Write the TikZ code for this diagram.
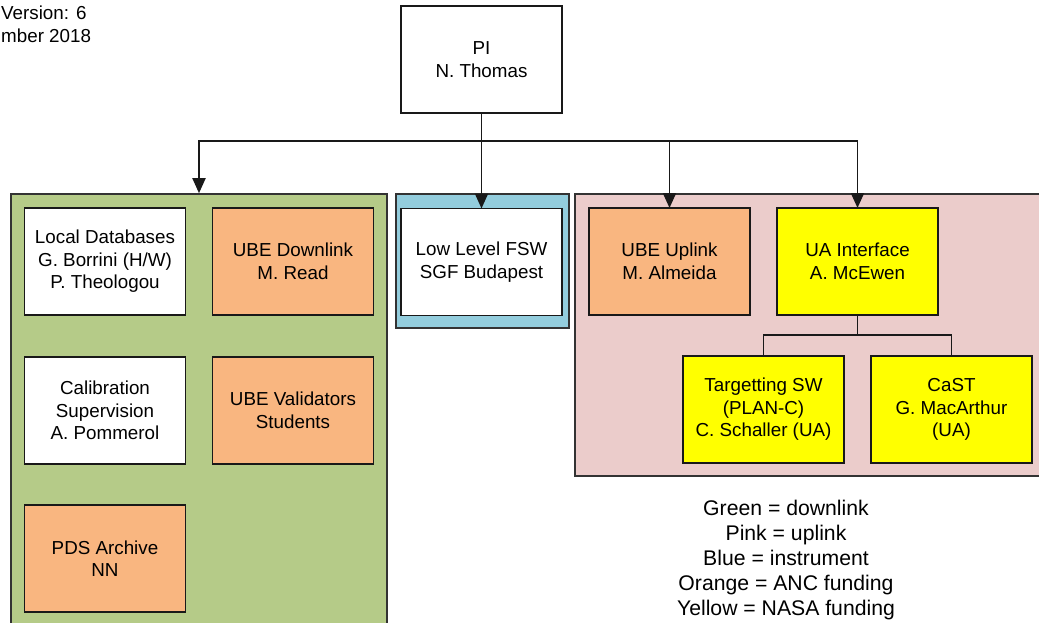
\documentclass[tikz,border=0pt]{standalone}
\usepackage{fontspec}
\setmainfont{Liberation Sans}
\usetikzlibrary{arrows.meta,positioning}

\definecolor{dlgreen}{HTML}{B5CB88}
\definecolor{ulpink}{HTML}{EBCCCB}
\definecolor{instblue}{HTML}{93CDDD}
\definecolor{ancorange}{HTML}{F9B680}
\definecolor{nasayellow}{HTML}{FFFF00}

\begin{document}
\begin{tikzpicture}[
  x=1pt, y=-1pt,
  node distance=27pt and 27pt,
  box/.style={draw=black!90, fill=white, line width=1.6pt, align=center, minimum width=161pt, minimum height=107pt, inner sep=0pt, outer sep=0pt, font=\fontsize{18.8}{22.5}\selectfont},
  group/.style={draw=black!80, line width=1.6pt, inner sep=0pt},
  note/.style={font=\fontsize{18.8}{22.5}\selectfont, inner sep=0pt},
  link/.style={draw=black!90, line width=1.9pt},
  >={Triangle[length=15pt,width=13pt]}
]
  \useasboundingbox (0,0) rectangle (1039,622);

  % version note, top left
  \node[note, anchor=west] (ver) at (1,13) {Version: 6};
  \node[note, anchor=west] (date) at (1,36) {mber 2018};

  % group backgrounds
  \node[group, fill=dlgreen, minimum width=376pt, minimum height=446pt] (grn) at (199,417) {};
  \node[group, fill=instblue, minimum width=173pt, minimum height=134pt] (inst) at (482.5,261) {};
  \node[group, fill=ulpink, minimum width=475pt, minimum height=282pt] (upl) at (812.5,335) {};

  \node[box] (pi) at (481.5,59.5) {PI\\N. Thomas};

  % downlink side
  \node[box] (locdb) at (105,261.5) {Local Databases\\G. Borrini (H/W)\\P. Theologou};
  \node[box, fill=ancorange, right=of locdb] (dlink) {UBE Downlink\\M. Read};
  \node[box, below=42pt of locdb] (calib) {Calibration\\Supervision\\A. Pommerol};
  \node[box, fill=ancorange, right=of calib] (valid) {UBE Validators\\Students};
  \node[box, fill=ancorange, below=41pt of calib] (pds) {PDS Archive\\NN};

  % instrument
  \node[box] (fsw) at (481.5,262) {Low Level FSW\\SGF Budapest};

  % uplink side
  \node[box, fill=ancorange] (ulink) at (669.5,261.5) {UBE Uplink\\M. Almeida};
  \node[box, fill=nasayellow, right=of ulink] (uaif) {UA Interface\\A. McEwen};
  \node[box, fill=nasayellow] (target) at (763.5,409.5) {Targetting SW\\(PLAN-C)\\C. Schaller (UA)};
  \node[box, fill=nasayellow, right=of target] (cast) {CaST\\G. MacArthur\\(UA)};

  % bus under the PI
  \coordinate (bus) at ([yshift=-28pt]pi.south);
  \draw[link, <->] (grn.north) |- (bus) -| (uaif.north);
  \draw[link, ->] (pi.south) -- (fsw.north);
  \draw[link, ->] (ulink.north |- bus) -- (ulink.north);

  \coordinate (uabus) at ([yshift=-20pt]uaif.south);
  \draw[link] (target.north) |- (uabus) -| (cast.north);
  \draw[link] (uaif.south) -- (uabus);

  \node[align=center, inner sep=0pt, font=\fontsize{21.2}{25}\selectfont] (legend) at (786,560)
    {Green = downlink\\Pink = uplink\\Blue = instrument\\Orange = ANC funding\\Yellow = NASA funding};
\end{tikzpicture}
\end{document}
